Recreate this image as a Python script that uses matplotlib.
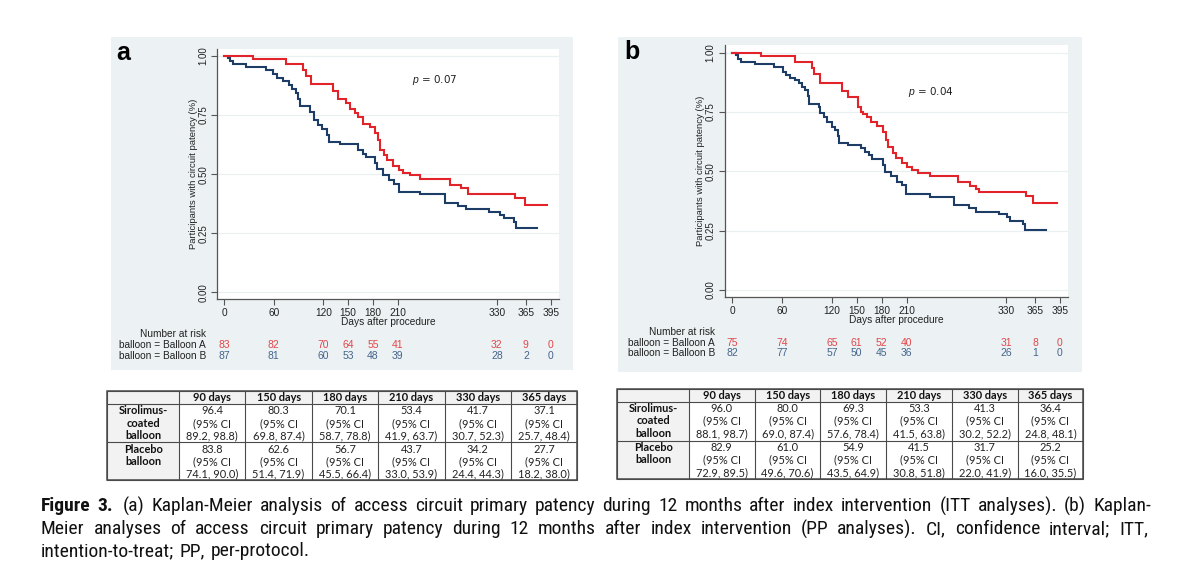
import numpy as np
import matplotlib
matplotlib.use('Agg')
import matplotlib.pyplot as plt
from matplotlib.patches import Rectangle
from matplotlib.font_manager import FontProperties, findfont
from matplotlib.transforms import blended_transform_factory

# ---- data ----
ticks_days = [0, 60, 120, 150, 180, 210, 330, 365, 395]

# panel a (ITT)
red_a_days = [0, 35, 75, 96, 99, 105, 132, 138, 148, 152, 158, 162, 168, 176, 183, 186, 189, 193, 197, 204,
              212, 217, 225, 237, 273, 287, 295, 352, 364, 391]
red_a_surv = [1.0, .987, .965, .941, .915, .880, .852, .817, .803, .777, .760, .740, .711, .701, .673, .645, .602, .581, .560, .535,
              .518, .504, .495, .480, .454, .443, .417, .398, .370, .370]
blue_a_days = [0, 5, 7, 11, 27, 51, 59, 64, 71, 78, 82, 87, 90, 92, 104, 109, 114, 119, 124, 127,
               140, 162, 168, 172, 183, 185, 192, 200, 205, 211, 237, 267, 283, 293, 320, 334, 338, 350, 353, 378]
blue_a_surv = [1.0, .990, .980, .966, .955, .941, .924, .908, .896, .877, .859, .842, .817, .788, .764, .729, .708, .690, .666, .637,
               .626, .602, .584, .571, .546, .520, .496, .475, .457, .423, .415, .377, .367, .353, .341, .327, .316, .299, .274, .274]
risk_a_A = [83, 82, 70, 64, 55, 41, 32, 9, 0]
risk_a_B = [87, 81, 60, 53, 48, 39, 28, 2, 0]

# panel b (PP)
red_b_days = [0, 35, 75, 96, 98, 106, 132, 139, 152, 155, 158, 162, 167, 175, 182, 185, 188, 194, 197, 204,
              211, 217, 224, 238, 272, 287, 294, 297, 354, 363, 391]
red_b_surv = [1.0, .986, .959, .934, .909, .871, .840, .812, .772, .751, .742, .728, .709, .692, .664, .632, .601, .578, .558, .534,
              .520, .506, .491, .480, .454, .440, .424, .413, .397, .365, .365]
blue_b_days = [0, 4, 7, 11, 27, 50, 61, 65, 69, 75, 80, 84, 88, 91, 93, 104, 106, 110, 114, 120,
               124, 127, 129, 140, 155, 160, 165, 168, 182, 184, 191, 198, 204, 209, 238, 267, 285, 294, 321, 331,
               335, 351, 353, 378]
blue_b_surv = [1.0, .989, .975, .962, .951, .940, .920, .906, .895, .885, .871, .857, .843, .819, .784, .770, .744, .728, .709, .688,
               .674, .649, .618, .611, .597, .583, .569, .551, .527, .499, .478, .456, .442, .404, .390, .358, .344, .330, .319, .306,
               .292, .278, .253, .253]
risk_b_A = [75, 74, 65, 61, 52, 40, 31, 8, 0]
risk_b_B = [82, 77, 57, 50, 45, 36, 26, 1, 0]

# tables
tab_cols = ['90 days', '150 days', '180 days', '210 days', '330 days', '365 days']
a_sir_est = [96.4, 80.3, 70.1, 53.4, 41.7, 37.1]
a_sir_lo = [89.2, 69.8, 58.7, 41.9, 30.7, 25.7]
a_sir_hi = [98.8, 87.4, 78.8, 63.7, 52.3, 48.4]
a_pla_est = [83.8, 62.6, 56.7, 43.7, 34.2, 27.7]
a_pla_lo = [74.1, 51.4, 45.5, 33.0, 24.4, 18.2]
a_pla_hi = [90.0, 71.9, 66.4, 53.9, 44.3, 38.0]
b_sir_est = [96.0, 80.0, 69.3, 53.3, 41.3, 36.4]
b_sir_lo = [88.1, 69.0, 57.6, 41.5, 30.2, 24.8]
b_sir_hi = [98.7, 87.4, 78.4, 63.8, 52.2, 48.1]
b_pla_est = [82.9, 61.0, 54.9, 41.5, 31.7, 25.2]
b_pla_lo = [72.9, 49.6, 43.5, 30.8, 22.0, 16.0]
b_pla_hi = [89.5, 70.6, 64.9, 51.8, 41.9, 35.5]

caption = [
    [("Figure", True), ("3.", True), ("(a)", False), ("Kaplan-Meier", False), ("analysis", False), ("of", False),
     ("access", False), ("circuit", False), ("primary", False), ("patency", False), ("during", False), ("12", False),
     ("months", False), ("after", False), ("index", False), ("intervention", False), ("(ITT", False),
     ("analyses).", False), ("(b)", False), ("Kaplan-", False)],
    [(w, False) for w in "Meier analyses of access circuit primary patency during 12 months after index intervention "
                         "(PP analyses). CI, confidence interval; ITT,".split()],
    [(w, False) for w in "intention-to-treat; PP, per-protocol.".split()],
]


def pick(names):
    for n in names:
        try:
            findfont(FontProperties(family=n), fallback_to_default=False)
            return n
        except ValueError:
            pass
    return 'DejaVu Sans'


STATA_FONT = pick(['Liberation Sans', 'DejaVu Sans'])
TAB_FONT = pick(['Lato', 'Open Sans', 'DejaVu Sans'])
CAP_FONT = pick(['Liberation Sans Narrow', 'Roboto Condensed', 'DejaVu Sans Condensed', 'Liberation Sans'])

plt.rcParams['mathtext.fontset'] = 'custom'
plt.rcParams['mathtext.it'] = STATA_FONT + ':italic'
plt.rcParams['mathtext.rm'] = STATA_FONT

W, H = 1200, 575
fig = plt.figure(figsize=(W / 100, H / 100), dpi=100)
fig.patch.set_facecolor('white')


def fx(x):
    return x / W


def fy(y):
    return 1 - y / H


RED = '#E2232A'
NAVY = '#1D3D66'
RED_TXT = '#E0474B'
NAVY_TXT = '#45648C'
BG = '#ECF1F3'
GRID = '#EAF0F1'
AXC = '#555555'

panels = [
    dict(bg=(110.7, 37.3, 572.7, 370), ax=(217.3, 49, 559, 299.3), xlim=(-8.1, 405), ylim=(-0.0296, 1.0296),
         red=(red_a_days, red_a_surv), blue=(blue_a_days, blue_a_surv), ptxt=r'$p$ = 0.07', ppos=(435, 80),
         letter='a', lpos=(123, 53), risk=(risk_a_A, risk_a_B), rx=206, ry=(334, 345, 356)),
    dict(bg=(618, 37.3, 1082.3, 371.7), ax=(724.7, 45, 1067.7, 297.3), xlim=(-9.2, 404.3), ylim=(-0.031, 1.032),
         red=(red_b_days, red_b_surv), blue=(blue_b_days, blue_b_surv), ptxt=r'$p$ = 0.04', ppos=(931, 92.3),
         letter='b', lpos=(632, 52), risk=(risk_b_A, risk_b_B), rx=715, ry=(331.7, 342.7, 353.3)),
]

for p in panels:
    x0, y0, x1, y1 = p['bg']
    fig.add_artist(Rectangle((fx(x0), fy(y1)), (x1 - x0) / W, (y1 - y0) / H, transform=fig.transFigure,
                             facecolor=BG, edgecolor='none', zorder=-5))
    l, t, r, b = p['ax']
    ax = fig.add_axes([fx(l), fy(b), (r - l) / W, (b - t) / H])
    ax.set_facecolor('white')
    ax.step(p['blue'][0], p['blue'][1], where='post', color=NAVY, lw=1.5, solid_joinstyle='miter')
    ax.step(p['red'][0], p['red'][1], where='post', color=RED, lw=1.5, solid_joinstyle='miter')
    ax.set_xlim(*p['xlim'])
    ax.set_ylim(*p['ylim'])
    ax.set_xticks(ticks_days)
    ax.set_xticklabels([str(d) for d in ticks_days], fontsize=7.3, family=STATA_FONT, color='#222222')
    ax.set_yticks([0, 0.25, 0.5, 0.75, 1.0])
    ax.set_yticklabels(['0.00', '0.25', '0.50', '0.75', '1.00'], fontsize=7, family=STATA_FONT,
                       rotation=90, va='center', color='#222222')
    ax.tick_params(axis='x', length=4.5, width=0.8, color=AXC, pad=2.0)
    ax.tick_params(axis='y', length=4, width=0.8, color=AXC, pad=2.5)
    ax.grid(axis='y', color=GRID, lw=0.9)
    ax.set_axisbelow(True)
    for s in ['top', 'right']:
        ax.spines[s].set_visible(False)
    for s in ['left', 'bottom']:
        ax.spines[s].set_color(AXC)
        ax.spines[s].set_linewidth(0.9)
    fig.text(fx(l - 24), fy((t + b) / 2), 'Participants with circuit patency (%)', rotation=90,
             ha='center', va='center', fontsize=6.8, family=STATA_FONT, color='#222222')
    fig.text(fx((l + r) / 2), fy(b + 23), 'Days after procedure', ha='center', va='center',
             fontsize=7.3, family=STATA_FONT, color='#222222')
    fig.text(fx(p['ppos'][0]), fy(p['ppos'][1]), p['ptxt'], ha='center', va='center', fontsize=7.5,
             color='#222222')
    fig.text(fx(p['lpos'][0]), fy(p['lpos'][1]), p['letter'], ha='center', va='center', fontsize=18,
             weight='bold', family=STATA_FONT, color='black')
    # number at risk
    rx = p['rx']
    ry = p['ry']
    fig.text(fx(rx), fy(ry[0]), 'Number at risk', ha='right', va='center', fontsize=7.3, family=STATA_FONT,
             color='#222222')
    fig.text(fx(rx), fy(ry[1]), 'balloon = Balloon A', ha='right', va='center', fontsize=7.3,
             family=STATA_FONT, color='#222222')
    fig.text(fx(rx), fy(ry[2]), 'balloon = Balloon B', ha='right', va='center', fontsize=7.3,
             family=STATA_FONT, color='#222222')
    tr = blended_transform_factory(ax.transData, fig.transFigure)
    for d, na, nb in zip(ticks_days, p['risk'][0], p['risk'][1]):
        ax.text(d, fy(ry[1]), str(na), transform=tr, ha='center', va='center', fontsize=7.5,
                family=STATA_FONT, color=RED_TXT, clip_on=False)
        ax.text(d, fy(ry[2]), str(nb), transform=tr, ha='center', va='center', fontsize=7.5,
                family=STATA_FONT, color=NAVY_TXT, clip_on=False)


def draw_table(box, hdr_b, row1_b, col1_r, sir, pla):
    left, top, right, bottom = box
    tax = fig.add_axes([fx(left) - 0.002, fy(bottom) - 0.004, (right - left) / W + 0.004, (bottom - top) / H + 0.008])
    tax.set_xlim(left - 2.4, right + 2.4)
    tax.set_ylim(bottom + 2.3, top - 2.3)
    tax.axis('off')
    edges = [left, col1_r] + list(np.linspace(col1_r, right, len(tab_cols) + 1)[1:])
    rows = [top, hdr_b, row1_b, bottom]
    shade = '#F2F2F2'
    tax.add_patch(Rectangle((left, top), right - left, hdr_b - top, facecolor=shade, edgecolor='none'))
    tax.add_patch(Rectangle((left, hdr_b), col1_r - left, bottom - hdr_b, facecolor=shade, edgecolor='none'))
    lc = '#4a4a4a'
    for e in edges:
        tax.plot([e, e], [top, bottom], color=lc, lw=0.8, solid_capstyle='butt')
    for r in rows:
        tax.plot([left, right], [r, r], color=lc, lw=0.8, solid_capstyle='butt')
    tax.add_patch(Rectangle((left, top), right - left, bottom - top, facecolor='none', edgecolor=lc, lw=1.1))
    fs = 7.9
    for i, c in enumerate(tab_cols):
        cx = (edges[i + 1] + edges[i + 2]) / 2
        tax.text(cx, (top + hdr_b) / 2 + 0.5, c, ha='center', va='center', fontsize=fs, weight='bold',
                 family=TAB_FONT, color='#111111')
    gap = 12.5
    for r_top, label, (est, lo, hi) in [(hdr_b, ['Sirolimus-', 'coated', 'balloon'], sir),
                                         (row1_b, ['Placebo', 'balloon'], pla)]:
        y_first = r_top + 6.8
        for k, s in enumerate(label):
            tax.text((left + col1_r) / 2, y_first + k * gap, s, ha='center', va='center', fontsize=fs,
                     weight='bold', family=TAB_FONT, color='#111111')
        for i in range(len(tab_cols)):
            cx = (edges[i + 1] + edges[i + 2]) / 2
            lines = [f'{est[i]:.1f}', '(95% CI', f'{lo[i]:.1f}, {hi[i]:.1f})']
            for k, s in enumerate(lines):
                tax.text(cx, y_first + k * gap, s, ha='center', va='center', fontsize=fs,
                         family=TAB_FONT, color='#222222')


draw_table((107.3, 391, 577.3, 480), 404, 442.3, 179,
           (a_sir_est, a_sir_lo, a_sir_hi), (a_pla_est, a_pla_lo, a_pla_hi))
draw_table((617.3, 389, 1083.3, 479), 401.7, 440.7, 689,
           (b_sir_est, b_sir_lo, b_sir_hi), (b_pla_est, b_pla_lo, b_pla_hi))

# caption, justified
renderer = fig.canvas.get_renderer()
cap_left, cap_right = 41, 1148
cap_ys = [506, 529, 551.5]
cap_fs = 14.0


def make_line(words, y, fs):
    ts = []
    for w, bold in words:
        ts.append(fig.text(0, fy(y), w, fontsize=fs, family=CAP_FONT, weight='bold' if bold else 'normal',
                           va='center', ha='left', color='#111111'))
    return ts


# shrink font if the natural text is wider than the column
for _ in range(6):
    probe = make_line(caption[1], cap_ys[1], cap_fs)
    natural = sum(t.get_window_extent(renderer).width for t in probe) + 4.0 * (len(probe) - 1)
    for t in probe:
        t.remove()
    if natural <= cap_right - cap_left:
        break
    cap_fs *= (cap_right - cap_left) / natural * 0.99

sp = fig.text(0, 0, 'x x', fontsize=cap_fs, family=CAP_FONT)
sp2 = fig.text(0, 0, 'xx', fontsize=cap_fs, family=CAP_FONT)
space_w = sp.get_window_extent(renderer).width - sp2.get_window_extent(renderer).width
sp.remove()
sp2.remove()

for li, words in enumerate(caption):
    ts = make_line(words, cap_ys[li], cap_fs)
    ws = [t.get_window_extent(renderer).width for t in ts]
    if li < len(caption) - 1:
        g = (cap_right - cap_left - sum(ws)) / (len(ts) - 1)
    else:
        g = space_w * 1.3
    x = cap_left
    for k, (t, w) in enumerate(zip(ts, ws)):
        t.set_x(fx(x))
        x += w + (g + 3 if (li == 0 and k == 1) else g)

fig.savefig('out.png', dpi=100, facecolor='white')
